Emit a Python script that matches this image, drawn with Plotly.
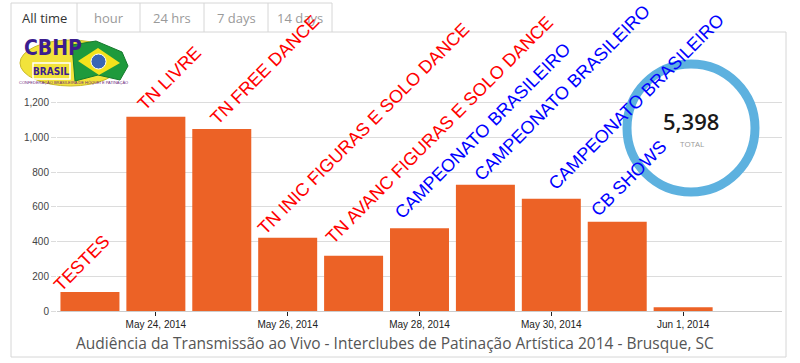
import plotly.graph_objects as go

# ---------------- data ----------------
dates = ['2014-05-23', '2014-05-24', '2014-05-25', '2014-05-26', '2014-05-27',
         '2014-05-28', '2014-05-29', '2014-05-30', '2014-05-31', '2014-06-01']
views = [110, 1118, 1048, 421, 318, 476, 726, 646, 513, 22]
event_labels = ['TESTES', 'TN LIVRE', 'TN FREE DANCE', 'TN INIC FIGURAS E SOLO DANCE',
                'TN AVANC FIGURAS E SOLO DANCE', 'CAMPEONATO BRASILEIRO',
                'CAMPEONATO BRASILEIRO', 'CAMPEONATO BRASILEIRO', 'CB SHOWS', '']
label_colors = ['red', 'red', 'red', 'red', 'red', 'blue', 'blue', 'blue', 'blue', 'blue']
x_tick_dates = ['2014-05-24', '2014-05-26', '2014-05-28', '2014-05-30', '2014-06-01']
y_ticks = [0, 200, 400, 600, 800, 1000, 1200]
total_label = '5,398'
tabs = ['All time', 'hour', '24 hrs', '7 days', '14 days']
chart_title = 'Audiência da Transmissão ao Vivo - Interclubes de Patinação Artística 2014 - Brusque, SC'

# label offsets (pixels) relative to bar's top-left corner
label_dx = [-13, 5, 11, -7, -5, -2, 12, 20, -3, 0]
label_dy = [-6, 0, -2, -4, 6, 3, -3, 2, -1, 0]

# ---------------- layout geometry ----------------
W, H = 800, 363
L, R, T, B = 57, 782, 40, 311
PW, PH = R - L, B - T


def px(x):
    return (x - L) / PW


def py(y):
    return (B - y) / PH


BAR_COLOR = '#EC6226'
GRID = '#dcdcdc'
BORDER = '#d6d6d6'

fig = go.Figure()
fig.add_trace(go.Bar(x=dates, y=views, marker=dict(color=BAR_COLOR, line=dict(width=0)),
                     hoverinfo='x+y'))

shapes = []
annotations = []

# ---- panel frame & tabs ----
def line(x0, y0, x1, y1, color=BORDER, w=1):
    shapes.append(dict(type='line', xref='paper', yref='paper', x0=px(x0), y0=py(y0),
                       x1=px(x1), y1=py(y1), line=dict(color=color, width=w), layer='above'))

tab_edges = [11, 77, 140, 204, 268, 332]
line(11, 3, 11, 357)
line(11, 357, 786, 357)
line(786, 32, 786, 357)
line(77, 32, 786, 32)
line(11, 3, 332, 3)
for e in tab_edges[1:]:
    line(e, 3, e, 32)
for i, t in enumerate(tabs):
    cx = (tab_edges[i] + tab_edges[i + 1]) / 2
    annotations.append(dict(text=t, x=px(cx), y=py(18), xref='paper', yref='paper',
                            showarrow=False, xanchor='center', yanchor='middle',
                            font=dict(family='Open Sans', size=13,
                                      color='#333' if i == 0 else '#9a9a9a')))

# ---- logo (CBHP Brasil) ----
shapes.append(dict(type='circle', xref='paper', yref='paper', x0=px(20), x1=px(121),
                   y0=py(86), y1=py(40), fillcolor='#F2E33B', line=dict(color='#c9b92a', width=1),
                   layer='above'))
flag = [(72, 45), (96, 41), (122, 52), (128, 66), (120, 80), (98, 75), (75, 81)]
path = 'M ' + ' L '.join(f'{px(a)} {py(b)}' for a, b in flag) + ' Z'
shapes.append(dict(type='path', xref='paper', yref='paper', path=path, fillcolor='#1E9A3C',
                   line=dict(color='#157a2c', width=1), layer='above'))
diamond = [(78, 61), (98, 48), (120, 63), (99, 75)]
path = 'M ' + ' L '.join(f'{px(a)} {py(b)}' for a, b in diamond) + ' Z'
shapes.append(dict(type='path', xref='paper', yref='paper', path=path, fillcolor='#F4E21C',
                   line=dict(width=0), layer='above'))
shapes.append(dict(type='circle', xref='paper', yref='paper', x0=px(91), x1=px(106),
                   y0=py(69), y1=py(54), fillcolor='#3A66B4', line=dict(color='#ffffff', width=1),
                   layer='above'))
shapes.append(dict(type='rect', xref='paper', yref='paper', x0=px(33), x1=px(70),
                   y0=py(79), y1=py(63), fillcolor='#F2E33B', line=dict(color='#ffffff', width=1.5),
                   layer='above'))
annotations.append(dict(text='<b>CBHP</b>', x=px(53), y=py(48), xref='paper', yref='paper',
                        showarrow=False, xanchor='center', yanchor='middle',
                        font=dict(family='DejaVu Sans Condensed, DejaVu Sans', size=21,
                                  color='#3b1d8f')))
annotations.append(dict(text='<b>BRASIL</b>', x=px(51.5), y=py(71), xref='paper', yref='paper',
                        showarrow=False, xanchor='center', yanchor='middle',
                        font=dict(family='DejaVu Sans Condensed, DejaVu Sans', size=10,
                                  color='#3b1d8f')))
annotations.append(dict(text='CONFEDERAÇÃO BRASILEIRA DE HÓQUEI E PATINAÇÃO', x=px(73), y=py(83),
                        xref='paper', yref='paper', showarrow=False, xanchor='center',
                        yanchor='middle', font=dict(family='Liberation Sans', size=4,
                                                    color='#6b2a7a')))

# ---- total ring ----
CX, CY, RR = 691, 128, 64
shapes.append(dict(type='circle', xref='paper', yref='paper', x0=px(CX - RR), x1=px(CX + RR),
                   y0=py(CY + RR), y1=py(CY - RR), fillcolor='white',
                   line=dict(color='#5DB1DF', width=9), layer='above'))
annotations.append(dict(text=total_label, x=px(CX), y=py(121), xref='paper', yref='paper',
                        showarrow=False, xanchor='center', yanchor='middle',
                        font=dict(family='Open Sans', size=22, color='#1a1a1a', weight=600)))
annotations.append(dict(text='TOTAL', x=px(CX + 1), y=py(143), xref='paper', yref='paper',
                        showarrow=False, xanchor='center', yanchor='middle',
                        font=dict(family='Open Sans', size=8, color='#999')))

# ---- event labels over the bars ----
for d, v, lab, col, dx, dy in zip(dates, views, event_labels, label_colors, label_dx, label_dy):
    if not lab:
        continue
    annotations.append(dict(text=lab, x=d, y=v, xref='x', yref='y', showarrow=False,
                            textangle=-45, xanchor='left', yanchor='bottom',
                            xshift=-29.5 + dx, yshift=dy,
                            font=dict(family='Liberation Sans, Arial', size=18, color=col)))

# ---- title ----
annotations.append(dict(text=chart_title, x=px(395), y=py(343), xref='paper', yref='paper',
                        showarrow=False, xanchor='center', yanchor='middle',
                        font=dict(family='Open Sans', size=15.5, color='#555')))

fig.update_layout(
    width=W, height=H,
    margin=dict(l=L, r=W - R, t=T, b=H - B, pad=0),
    paper_bgcolor='white', plot_bgcolor='white',
    showlegend=False, bargap=0.105,
    shapes=shapes, annotations=annotations,
    xaxis=dict(type='date', range=['2014-05-22 12:00', '2014-06-02 12:00'],
               tickvals=x_tick_dates, tickformat='%b %-d, %Y',
               ticks='outside', ticklen=4, tickcolor='#222', tickwidth=1,
               showgrid=False, showline=True, linecolor='#cccccc', linewidth=1,
               tickfont=dict(family='Liberation Sans, Arial', size=10, color='#222'),
               zeroline=False, fixedrange=True),
    yaxis=dict(range=[0, PH / (208.5 / 1200)], tickvals=y_ticks, tickformat=',d',
               showgrid=True, gridcolor=GRID, gridwidth=1, zeroline=False,
               ticks='outside', ticklen=5, tickcolor=GRID,
               tickfont=dict(family='Liberation Sans, Arial', size=10, color='#444'),
               fixedrange=True),
)

fig.write_html('out.html', config={'displayModeBar': False},
               post_script="document.body.style.margin='0';document.body.style.overflow='hidden';")
